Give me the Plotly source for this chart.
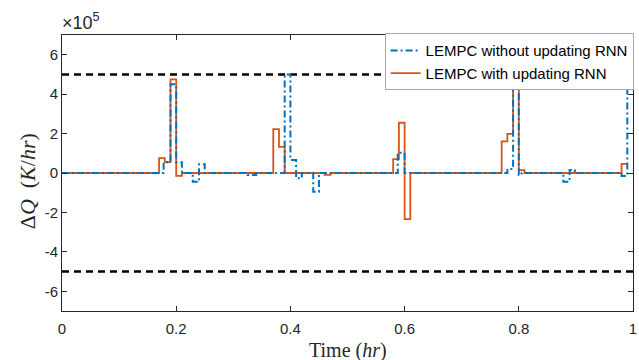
import plotly.graph_objects as go

# Step data (time in hr, dQ in K/hr)
t_without = [0, 0.178, 0.19, 0.20, 0.21, 0.229, 0.24, 0.25, 0.325, 0.34, 0.39, 0.40, 0.41, 0.42,
             0.44, 0.45, 0.588, 0.60, 0.78, 0.79, 0.80, 0.805, 0.878, 0.889, 0.898, 0.98, 0.99]
q_without = [0, 55000, 450000, 55000, 0, -45000, 45000, 0, -10000, 0, 500000, 66000, -27000, 0,
             -95000, 0, 103000, 0, 20000, 470000, -10000, 0, -44000, 15000, 0, -15000, 500000]

t_with = [0, 0.17, 0.18, 0.19, 0.20, 0.21, 0.37, 0.38, 0.39, 0.46, 0.47, 0.58, 0.59, 0.60, 0.61,
          0.77, 0.78, 0.79, 0.80, 0.81, 0.98, 0.99]
q_with = [0, 75000, 55000, 475000, -15000, 0, 223000, 133000, 0, -10000, 0, 70000, 255000, -234000, 0,
          160000, 198000, 500000, 15000, 0, 46000, 46000]

bound_upper = 500000
bound_lower = -500000

x_ticks = [0, 0.2, 0.4, 0.6, 0.8, 1]
x_ticklabels = ["0", "0.2", "0.4", "0.6", "0.8", "1"]
y_ticks = [-600000, -400000, -200000, 0, 200000, 400000, 600000]
y_ticklabels = ["-6", "-4", "-2", "0", "2", "4", "6"]

blue = "#0072BD"
orange = "#D95319"

fig = go.Figure()
fig.add_trace(go.Scatter(x=[0, 1], y=[bound_upper, bound_upper], mode="lines",
                         line=dict(color="black", width=2.4, dash="7px,5px"), showlegend=False, hoverinfo="skip"))
fig.add_trace(go.Scatter(x=[0, 1], y=[bound_lower, bound_lower], mode="lines",
                         line=dict(color="black", width=2.4, dash="7px,5px"), showlegend=False, hoverinfo="skip"))
fig.add_trace(go.Scatter(x=t_with, y=q_with, mode="lines", line_shape="hv",
                         line=dict(color=orange, width=1.8), name="LEMPC with updating RNN", legendrank=2))
fig.add_trace(go.Scatter(x=t_without, y=q_without, mode="lines", line_shape="hv",
                         line=dict(color=blue, width=2, dash="7px,3px,2px,3px"), name="LEMPC without updating RNN",
                         legendrank=1))

tickfont = dict(family="Liberation Sans, Arial, sans-serif", size=15, color="#262626")

fig.update_layout(
    width=639, height=360,
    margin=dict(l=62, r=6, t=35, b=49, autoexpand=False),
    plot_bgcolor="white", paper_bgcolor="white",
    showlegend=True,
    legend=dict(x=0.565, xanchor="left", y=1.006, yanchor="top",
                bgcolor="white", bordercolor="#a8a8a8", borderwidth=1,
                font=dict(family="Liberation Sans, Arial, sans-serif", size=15, color="black"),
                tracegroupgap=0, itemwidth=30),
    xaxis=dict(range=[0, 1], tickvals=x_ticks, ticktext=x_ticklabels, ticks="inside", ticklen=5,
               tickcolor="#262626", showline=True, linecolor="#262626", linewidth=1, mirror="ticks",
               showgrid=False, zeroline=False, tickfont=tickfont, ticklabelstandoff=4),
    yaxis=dict(range=[-700000, 700000], tickvals=y_ticks, ticktext=y_ticklabels, ticks="inside", ticklen=5,
               tickcolor="#262626", showline=True, linecolor="#262626", linewidth=1, mirror="ticks",
               showgrid=False, zeroline=False, tickfont=tickfont),
    annotations=[
        dict(text="×10<sup>5</sup>", xref="paper", yref="paper", x=0, y=1.0, xanchor="left", yanchor="bottom",
             showarrow=False, font=dict(family="Liberation Sans, Arial, sans-serif", size=18, color="#262626"),
             xshift=-2, yshift=0),
        dict(text="Δ<i>Q</i>  (<i>K</i>/<i>hr</i>)", xref="paper", yref="paper", x=0, y=0.47, xanchor="center",
             yanchor="middle", textangle=-90, showarrow=False, xshift=-35,
             font=dict(family="Liberation Serif, Times New Roman, serif", size=22, color="#262626")),
        dict(text="Time (<i>hr</i>)", xref="paper", yref="paper", x=0.5, y=0, xanchor="center", yanchor="top",
             showarrow=False, yshift=-26,
             font=dict(family="Liberation Serif, Times New Roman, serif", size=20, color="#262626")),
    ],
)

fig.write_html("out.html",
               config={"displayModeBar": False},
               post_script="document.body.style.margin='0';document.body.style.padding='0';"
                           "document.documentElement.style.overflow='hidden';")
